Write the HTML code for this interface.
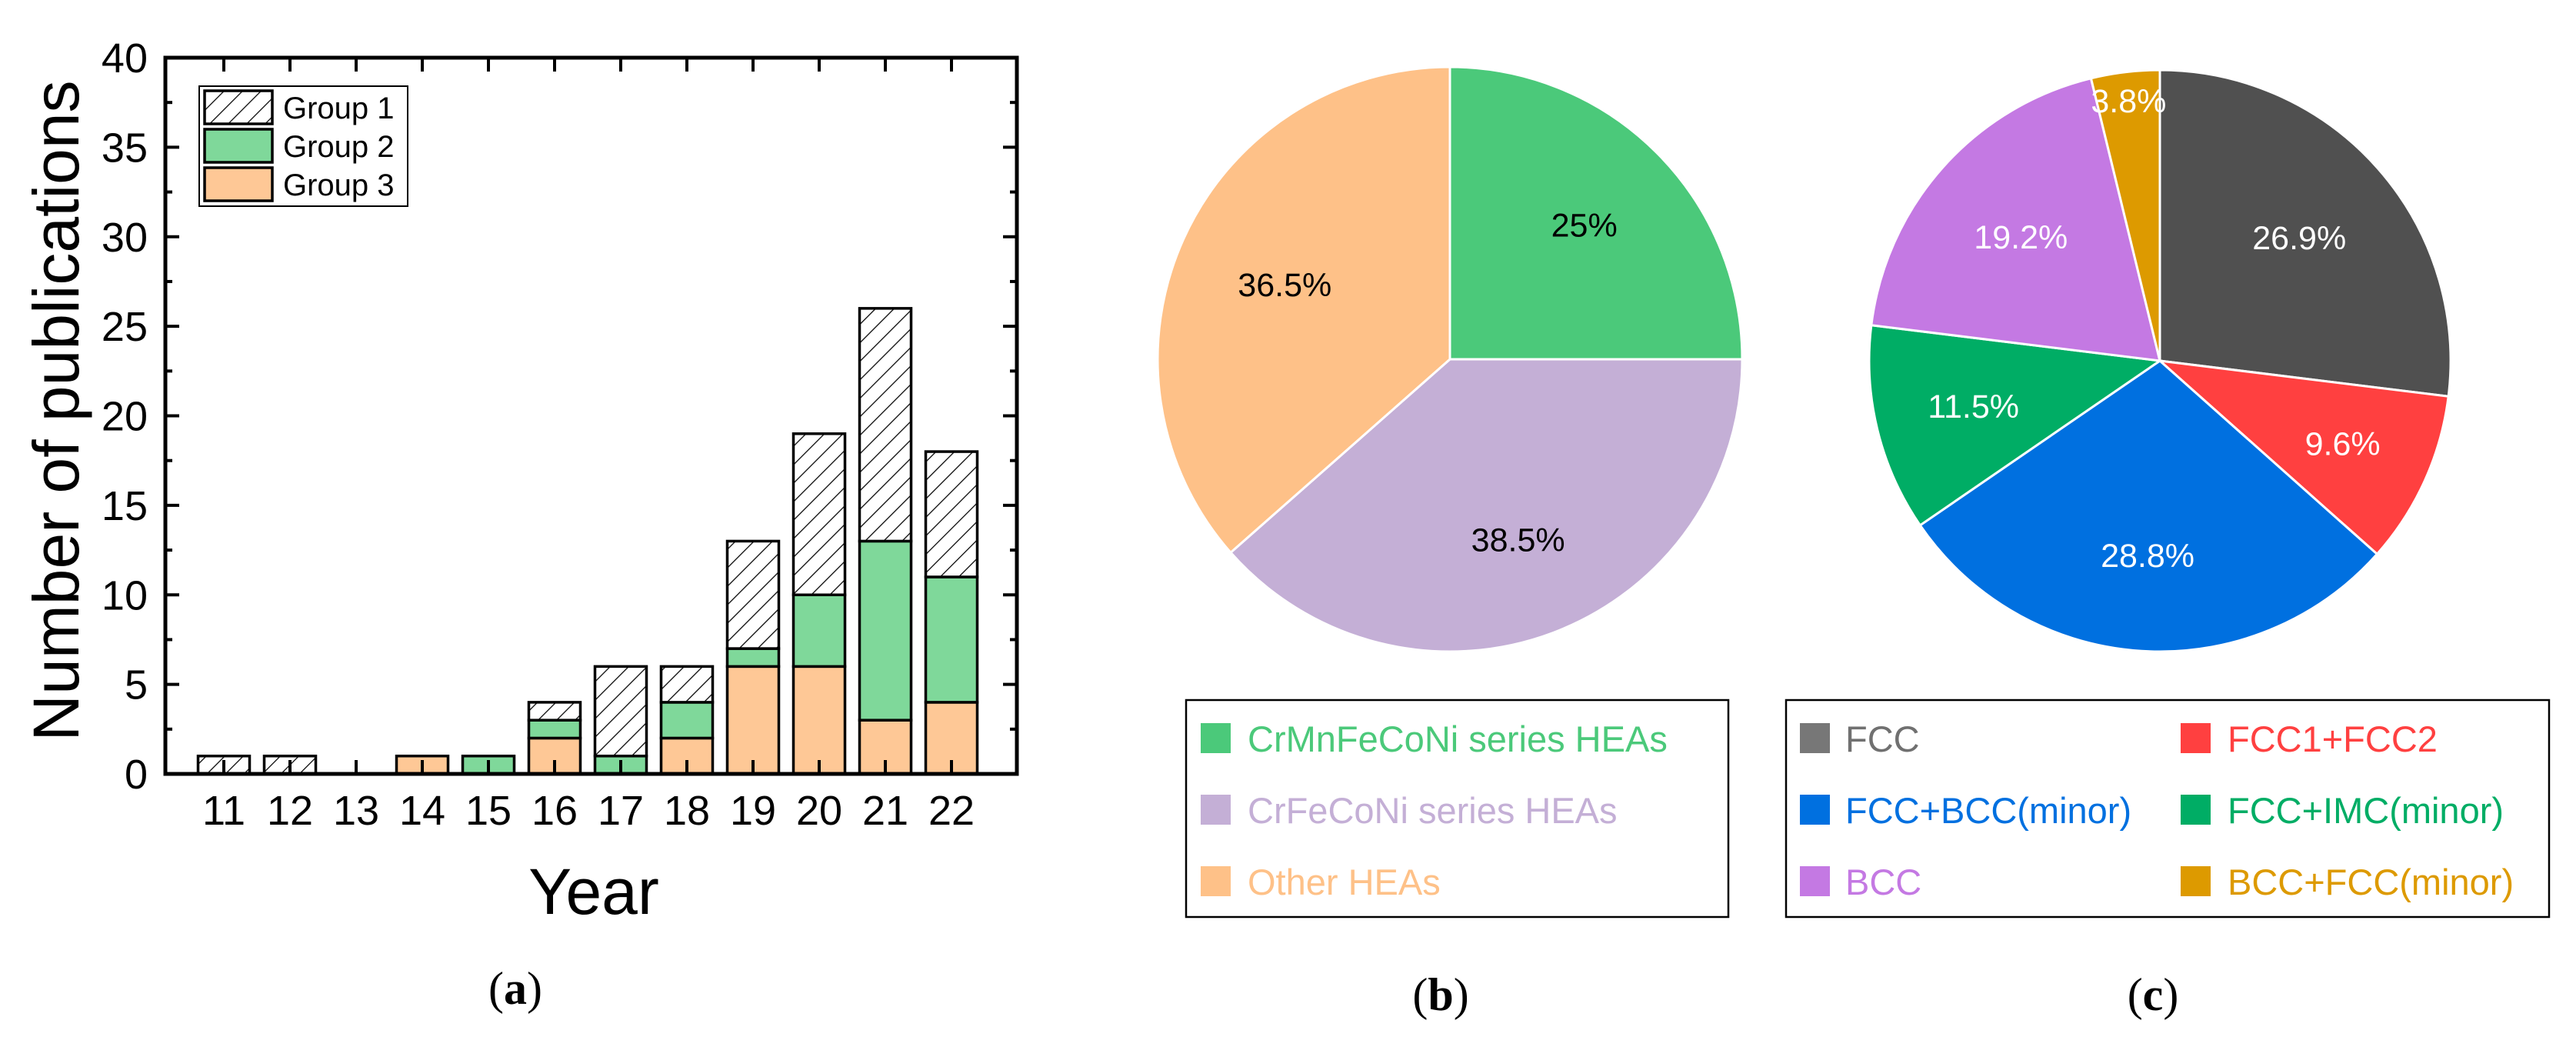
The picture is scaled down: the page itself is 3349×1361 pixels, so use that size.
<!DOCTYPE html>
<html><head><meta charset="utf-8"><style>
html,body{margin:0;padding:0;background:#fff;}
svg{display:block;font-family:"Liberation Sans",sans-serif;}
</style></head><body>
<svg id="fig" width="3349" height="1361" viewBox="0 0 3349 1361">
<defs>
<pattern id="hatch" patternUnits="userSpaceOnUse" width="17" height="17" patternTransform="rotate(45)">
<rect width="17" height="17" fill="#fff"/><line x1="0" y1="0" x2="0" y2="17" stroke="#000" stroke-width="2.5"/>
</pattern>
</defs>
<g id="chartA"></g>
<g id="chartB"></g>
<g id="chartC"></g>
<text x="670" y="1305" font-family="Liberation Serif,serif" font-size="60" text-anchor="middle">(<tspan font-weight="bold">a</tspan>)</text>
<text x="1873" y="1313" font-family="Liberation Serif,serif" font-size="60" text-anchor="middle">(<tspan font-weight="bold">b</tspan>)</text>
<text x="2799" y="1313" font-family="Liberation Serif,serif" font-size="60" text-anchor="middle">(<tspan font-weight="bold">c</tspan>)</text>
</svg>
<script>
const years = ["11","12","13","14","15","16","17","18","19","20","21","22"];
const group3 = [0,0,0,1,0,2,0,2,6,6,3,4];
const group2 = [0,0,0,0,1,1,1,2,1,4,10,7];
const group1 = [1,1,0,0,0,1,5,2,6,9,13,7];
const yTicks = [0,5,10,15,20,25,30,35,40];
const pieBLabels = ["CrMnFeCoNi series HEAs","CrFeCoNi series HEAs","Other HEAs"];
const pieBValues = [25,38.5,36.5];
const pieCLabels = ["FCC","FCC1+FCC2","FCC+BCC(minor)","FCC+IMC(minor)","BCC","BCC+FCC(minor)"];
const pieCValues = [26.9,9.6,28.8,11.5,19.2,3.8];

const NS="http://www.w3.org/2000/svg";
function mk(parent,tag,attrs,text){const e=document.createElementNS(NS,tag);for(const k in attrs)e.setAttribute(k,attrs[k]);if(text!==undefined)e.textContent=text;parent.appendChild(e);return e;}

// Chart A
const A=document.getElementById('chartA');
const L=215,R=1322,T=75,B=1006;
const yS=v=>B-(v/40)*(B-T);
const xS=i=>291+i*86;
const bw=67;
yTicks.forEach(v=>{
  const t=mk(A,'text',{x:192,y:yS(v)+19,'font-size':54,'text-anchor':'end'},String(v));
  
  
  mk(A,'line',{x1:L,y1:yS(v),x2:L+18,y2:yS(v),stroke:'#000','stroke-width':4});
  mk(A,'line',{x1:R,y1:yS(v),x2:R-18,y2:yS(v),stroke:'#000','stroke-width':4});
  if(v<40){mk(A,'line',{x1:L,y1:yS(v+2.5),x2:L+9,y2:yS(v+2.5),stroke:'#000','stroke-width':4});
  mk(A,'line',{x1:R,y1:yS(v+2.5),x2:R-9,y2:yS(v+2.5),stroke:'#000','stroke-width':4});}
});
years.forEach((y,i)=>{
  const x=xS(i);
  let base=0;
  [[group3[i],'#fec896'],[group2[i],'#7fd89a'],[group1[i],'url(#hatch)']].forEach((s,k)=>{
    if(s[0]>0){
      const r=mk(A,'rect',{x:x-bw/2,y:yS(base+s[0]),width:bw,height:yS(base)-yS(base+s[0]),fill:s[1],stroke:'#000','stroke-width':3.5});
      
      
    }
    base+=s[0];
  });
  mk(A,'line',{x1:x,y1:B,x2:x,y2:B-18,stroke:'#000','stroke-width':4});
  mk(A,'line',{x1:x,y1:T,x2:x,y2:T+18,stroke:'#000','stroke-width':4});
  const t=mk(A,'text',{x:x,y:1072,'font-size':54,'text-anchor':'middle'},y);
  
  
});
mk(A,'rect',{x:L,y:T,width:R-L,height:B-T,fill:'none',stroke:'#000','stroke-width':5});
const yt=mk(A,'text',{x:0,y:0,'font-size':84,'text-anchor':'middle',transform:'translate(102,534) rotate(-90)'},'Number of publications');


const xt=mk(A,'text',{x:772,y:1188,'font-size':84,'text-anchor':'middle'},'Year');


const lg=mk(A,'g',{});


mk(lg,'rect',{x:259,y:112,width:271,height:156,fill:'#fff',stroke:'#000','stroke-width':2});
[['Group 1','url(#hatch)'],['Group 2','#7fd89a'],['Group 3','#fec896']].forEach((g,k)=>{
  const yy=118+k*50;
  mk(lg,'rect',{x:266,y:yy,width:88,height:43,fill:g[1],stroke:'#000','stroke-width':3.5});
  const t=mk(lg,'text',{x:368,y:yy+36,'font-size':40},g[0]);
  
  
});

// Pies
function pie(g,cx,cy,r,vals,colors,labels,labelColor,labelR){
  const tot=vals.reduce((a,b)=>a+b,0);let a0=-Math.PI/2;
  vals.forEach((v,i)=>{
    const a1=a0+v/tot*2*Math.PI;
    const large=(a1-a0)>Math.PI?1:0;
    const d=`M${cx},${cy} L${cx+r*Math.cos(a0)},${cy+r*Math.sin(a0)} A${r},${r} 0 ${large} 1 ${cx+r*Math.cos(a1)},${cy+r*Math.sin(a1)} Z`;
    const p=mk(g,'path',{d:d,fill:colors[i],stroke:'#fff','stroke-width':3});
    
    
    const am=(a0+a1)/2;
    const lr=labelR[i]*r;
    const t=mk(g,'text',{x:cx+lr*Math.cos(am),y:cy+lr*Math.sin(am)+15,'font-size':43,'text-anchor':'middle',fill:labelColor},(Math.round(v*10)/10)+'%');
    
    
    a0=a1;
  });
}
const Bg=document.getElementById('chartB');
const bCols=['#4bc97a','#c4afd6','#fec188'];
pie(Bg,1885,467,380,pieBValues,bCols,pieBLabels,'#000',[0.65,0.66,0.62]);
mk(Bg,'rect',{x:1542,y:910,width:705,height:282,fill:'none',stroke:'#000','stroke-width':2.5});
pieBLabels.forEach((l,k)=>{
  const yy=960+k*93;
  mk(Bg,'rect',{x:1561,y:yy-20,width:39,height:39,fill:bCols[k]});
  const t=mk(Bg,'text',{x:1622,y:yy+17,'font-size':47,fill:bCols[k]},l);
  
  
});
const Cg=document.getElementById('chartC');
const cCols=['#505050','#ff4040','#0070e0','#00ad65','#c479e3','#dd9a00'];
pie(Cg,2808,469,378,pieCValues,cCols,pieCLabels,'#fff',[0.64,0.69,0.67,0.66,0.64,0.9]);
mk(Cg,'rect',{x:2322,y:910,width:992,height:282,fill:'none',stroke:'#000','stroke-width':2.5});
const legTxt=['#707070','#ff4040','#0070e0','#00ad65','#c479e3','#dd9a00'];
pieCLabels.forEach((l,k)=>{
  const col=k%2,row=Math.floor(k/2);
  const yy=960+row*93;
  const sx=col?2835:2340, tx=col?2896:2399;
  mk(Cg,'rect',{x:sx,y:yy-20,width:39,height:39,fill:k==0?'#777':cCols[k]});
  const t=mk(Cg,'text',{x:tx,y:yy+17,'font-size':47,fill:legTxt[k]},l);
  
  
});
</script>
</body></html>
